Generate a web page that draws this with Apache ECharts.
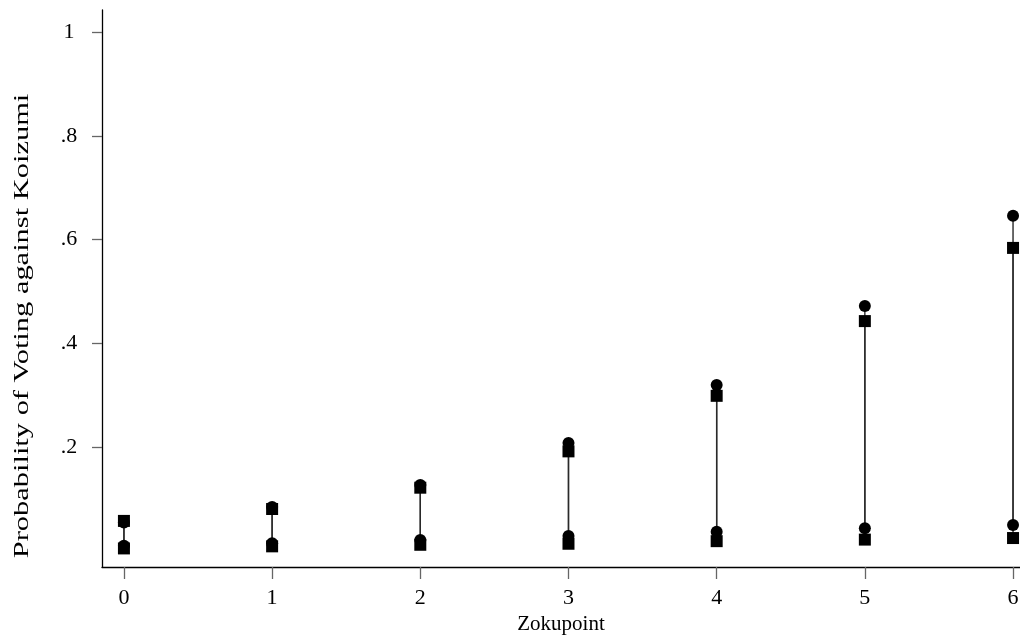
<!DOCTYPE html>
<html>
<head>
<meta charset="utf-8">
<script src="https://cdn.jsdelivr.net/npm/echarts@6/dist/echarts.min.js"></script>
<style>
html,body{margin:0;padding:0;background:#fff;}
#chart{width:1020px;height:637px;}
</style>
</head>
<body>
<div id="chart"></div>
<script>
// Zokupoint categories (x positions)
var zokupoint = [0, 1, 2, 3, 4, 5, 6];
// Circle series: high and low values
var circleHigh = [0.055, 0.085, 0.127, 0.208, 0.320, 0.472, 0.646];
var circleLow  = [0.010, 0.015, 0.021, 0.029, 0.037, 0.044, 0.050];
// Square series: high and low values
var squareHigh = [0.058, 0.081, 0.122, 0.192, 0.299, 0.443, 0.584];
var squareLow  = [0.005, 0.009, 0.012, 0.014, 0.019, 0.022, 0.025];
// Tick labels
var yTicks = [0.2, 0.4, 0.6, 0.8, 1];
var yTickLabels = ['.2', '.4', '.6', '.8', '1'];
var xTicks = [0, 1, 2, 3, 4, 5, 6];
var yTitle = 'Probability of Voting against Koizumi';
var xTitle = 'Zokupoint';

var font = '"Liberation Serif", "Times New Roman", serif';

function pairs(xs, ys) { return xs.map(function (x, i) { return [x, ys[i]]; }); }
function ranges(xs, lo, hi) { return xs.map(function (x, i) { return [x, lo[i], hi[i]]; }); }

function rangeRender(params, api) {
  var p1 = api.coord([api.value(0), api.value(1)]);
  var p2 = api.coord([api.value(0), api.value(2)]);
  return {
    type: 'line',
    shape: { x1: p1[0], y1: p1[1], x2: p2[0], y2: p2[1] },
    style: { stroke: '#2a2a2a', lineWidth: 1.4 }
  };
}

var chart = echarts.init(document.getElementById('chart'));
chart.setOption({
  animation: false,
  backgroundColor: '#fff',
  grid: { left: 102, right: 0, top: 10, bottom: 70, containLabel: false, outerBoundsMode: 'none' },
  graphic: [{
    type: 'text',
    x: 22, y: 326,
    rotation: Math.PI / 2,
    scaleX: 1.45,
    style: { text: yTitle, fontFamily: font, fontSize: 21, fill: '#000', align: 'center', verticalAlign: 'middle' }
  }],
  xAxis: {
    type: 'value',
    min: -0.148, max: 6.047,
    name: xTitle,
    nameLocation: 'middle',
    nameGap: 47,
    nameTextStyle: { fontFamily: font, fontSize: 21, color: '#000' },
    axisLine: { show: true, onZero: false, lineStyle: { color: '#000', width: 1.3 } },
    axisTick: { show: true, length: 12, customValues: xTicks, lineStyle: { color: '#666', width: 1.3 } },
    axisLabel: { customValues: xTicks, margin: 20, fontFamily: font, fontSize: 22, color: '#000',
      formatter: function (v) { return String(v); } },
    splitLine: { show: false }
  },
  yAxis: {
    type: 'value',
    min: -0.0308, max: 1.0424,
    axisLine: { show: true, onZero: false, lineStyle: { color: '#000', width: 1.3 } },
    axisTick: { show: true, length: 10, customValues: yTicks, lineStyle: { color: '#666', width: 1.3 } },
    axisLabel: { customValues: yTicks, margin: 33, align: 'center', fontFamily: font, fontSize: 22, color: '#000',
      formatter: function (v) { var i = yTicks.indexOf(v); return i >= 0 ? yTickLabels[i] : ''; } },
    splitLine: { show: false }
  },
  series: [
    { type: 'custom', renderItem: rangeRender, data: ranges(zokupoint, circleLow, circleHigh), encode: { x: 0, y: [1, 2] }, z: 1 },
    { type: 'custom', renderItem: rangeRender, data: ranges(zokupoint, squareLow, squareHigh), encode: { x: 0, y: [1, 2] }, z: 1 },
    { type: 'scatter', data: pairs(zokupoint, squareHigh), symbol: 'rect', symbolSize: 12, itemStyle: { color: '#000', opacity: 1 }, z: 2 },
    { type: 'scatter', data: pairs(zokupoint, squareLow), symbol: 'rect', symbolSize: 12, itemStyle: { color: '#000', opacity: 1 }, z: 2 },
    { type: 'scatter', data: pairs(zokupoint, circleHigh), symbol: 'circle', symbolSize: 12, itemStyle: { color: '#000', opacity: 1 }, z: 3 },
    { type: 'scatter', data: pairs(zokupoint, circleLow), symbol: 'circle', symbolSize: 12, itemStyle: { color: '#000', opacity: 1 }, z: 3 }
  ]
});
</script>
</body>
</html>
